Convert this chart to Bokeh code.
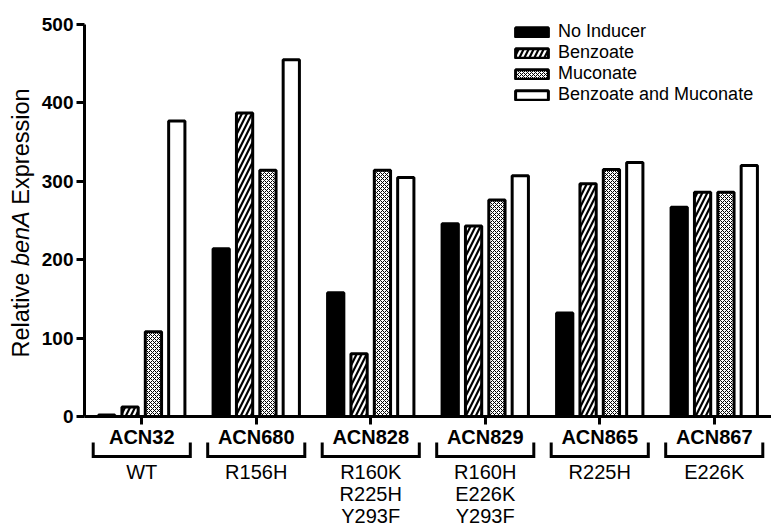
import math
from bokeh.plotting import figure
from bokeh.models import Range1d, FixedTicker, LinearAxis, Legend
from bokeh.core.properties import value
from bokeh.embed import file_html
from bokeh.resources import INLINE

# ---- data ----
groups = ["ACN32", "ACN680", "ACN828", "ACN829", "ACN865", "ACN867"]
mutations = ["WT", "R156H", "R160K\nR225H\nY293F", "R160H\nE226K\nY293F", "R225H", "E226K"]
series_names = ["No Inducer", "Benzoate", "Muconate", "Benzoate and Muconate"]
no_inducer = [2, 214, 158, 246, 132, 267]
benzoate = [12, 387, 80, 243, 297, 286]
muconate = [108, 314, 314, 276, 315, 286]
benz_muc = [377, 455, 305, 307, 324, 320]
y_ticks = [0, 100, 200, 300, 400, 500]

FONT = "Liberation Sans"
W, H = 771, 526
PX_X = 114.5     # px per group
PX_Y = 0.784     # px per y unit
AX_LEFT = 84     # px position of the y axis
AX_BOTTOM = 416  # px position of the x axis

x0 = -0.5 - AX_LEFT / PX_X
x1 = x0 + W / PX_X
y1 = AX_BOTTOM / PX_Y
y0 = -(H - AX_BOTTOM) / PX_Y

p = figure(width=W, height=H, output_backend="svg", toolbar_location=None,
           x_range=Range1d(x0, x1), y_range=Range1d(y0, y1),
           min_border=0, x_axis_type=None, y_axis_type=None)
p.outline_line_color = None
p.xgrid.visible = False
p.ygrid.visible = False
p.background_fill_color = "white"
p.border_fill_color = "white"

# ---- bars ----
offsets = [-0.306, -0.102, 0.102, 0.306]
series = [no_inducer, benzoate, muconate, benz_muc]
styles = [
    dict(fill_color="black"),
    dict(fill_color="white", hatch_pattern="/", hatch_color="black", hatch_scale=10, hatch_weight=2.2),
    dict(fill_color="white", hatch_pattern="x", hatch_color="black", hatch_scale=4, hatch_weight=1),
    dict(fill_color="white"),
]
xs_idx = list(range(len(groups)))
items = []
for name, vals, off, st in zip(series_names, series, offsets, styles):
    r = p.vbar(x=[i + off for i in xs_idx], top=vals, bottom=0, width=0.142,
               line_color="black", line_width=3, **st)
    items.append((name, [r]))

# legend: bottom-left corner given from the frame's bottom-left, y up
legend = Legend(items=items, location=(511, 421))
legend.label_text_font = FONT
legend.label_text_font_size = "18px"
legend.label_text_color = "black"
legend.glyph_width = 41
legend.glyph_height = 12
legend.label_height = 18
legend.spacing = 0
legend.padding = 5
legend.margin = 0
legend.label_standoff = 6
legend.border_line_color = None
legend.background_fill_alpha = 0
p.add_layout(legend, "center")

# ---- y axis ----
yax = LinearAxis(ticker=FixedTicker(ticks=y_ticks), bounds=(0, 500), fixed_location=-0.5)
yax.axis_line_width = 3
yax.axis_line_color = "black"
yax.major_tick_line_width = 3
yax.major_tick_out = 8
yax.major_tick_in = 0
yax.minor_tick_line_color = None
yax.major_label_text_font = FONT
yax.major_label_text_font_style = "bold"
yax.major_label_text_font_size = "19px"
yax.major_label_text_color = "black"
yax.major_label_standoff = 3
p.add_layout(yax, "left")

# ---- x axis (strain names) ----
xax = LinearAxis(ticker=FixedTicker(ticks=xs_idx), bounds=(-0.5, 5.5), fixed_location=0,
                 major_label_overrides={i: g for i, g in zip(xs_idx, groups)})
xax.axis_line_width = 3
xax.axis_line_color = "black"
xax.major_tick_line_width = 3
xax.major_tick_out = 8
xax.major_tick_in = 0
xax.minor_tick_line_color = None
xax.major_label_text_font = FONT
xax.major_label_text_font_style = "bold"
xax.major_label_text_font_size = "20px"
xax.major_label_text_color = "black"
xax.major_label_standoff = 1
p.add_layout(xax, "below")

# ---- second x axis (mutations) ----
xax2 = LinearAxis(ticker=FixedTicker(ticks=xs_idx), fixed_location=0,
                  major_label_overrides={i: m for i, m in zip(xs_idx, mutations)})
xax2.axis_line_color = None
xax2.major_tick_line_color = None
xax2.major_tick_out = 0
xax2.major_tick_in = 0
xax2.minor_tick_line_color = None
xax2.major_label_text_font = FONT
xax2.major_label_text_font_size = "20px"
xax2.major_label_text_color = "black"
xax2.major_label_text_line_height = 1.0
xax2.major_label_standoff = 44
p.add_layout(xax2, "below")

# ---- brackets ----
half = 0.424
b_top = -26 / PX_Y
b_bot = -40 / PX_Y
p.multi_line(xs=[[i - half, i - half, i + half, i + half] for i in xs_idx],
             ys=[[b_top, b_bot, b_bot, b_top] for _ in xs_idx],
             line_color="black", line_width=3, line_join="miter")

# ---- y axis title with italic part ----
TS = 23.5
SPACE = 0.278
parts = [("Relative", "normal", 3.612 + SPACE), ("benA", "italic", 2.335 + SPACE), ("Expression", "normal", 4.946)]
x_title = -0.5 - 64 / PX_X
ypos = 59
for txt, style, em in parts:
    p.text(x=[x_title], y=[ypos / PX_Y], text=[txt], angle=math.pi / 2,
           text_align="left", text_baseline="middle",
           text_font=value(FONT), text_font_style=style, text_font_size=f"{TS}px",
           text_color="black")
    ypos += em * TS

open("out.html", "w").write(file_html(p, INLINE))
